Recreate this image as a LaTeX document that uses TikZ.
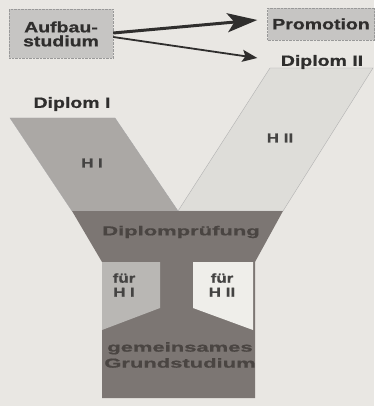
\documentclass[tikz,border=0pt]{standalone}
\usepackage{fontspec}
\setmainfont{Liberation Sans}[FakeStretch=1.3,BoldFeatures={FakeBold=0.8}]
\usetikzlibrary{arrows.meta}
\definecolor{bgcol}{HTML}{E9E7E3}
\definecolor{boxcol}{HTML}{C6C5C3}
\definecolor{armone}{HTML}{ABA8A5}
\definecolor{armtwo}{HTML}{DEDDD9}
\definecolor{stemcol}{HTML}{7C7673}
\definecolor{subone}{HTML}{B9B7B4}
\definecolor{subtwo}{HTML}{EFEEEA}
\definecolor{txtcol}{HTML}{2F2E2D}
\definecolor{darktxt}{HTML}{4A4542}
\tikzset{
  greybox/.style={draw=gray!80,densely dotted,fill=boxcol,text=txtcol,font=\fontsize{15}{15}\bfseries,align=center,inner sep=0pt},
  label/.style={text=txtcol,font=\fontsize{15}{15}\bfseries},
  inlabel/.style={text=txtcol!90,font=\fontsize{13}{14}\bfseries,align=center},
  darklabel/.style={text=darktxt,font=\fontsize{13}{16}\bfseries,align=center,xscale=1.3,transform shape}
}
\begin{document}
\begin{tikzpicture}[x=1pt,y=-1pt]
\fill[bgcol] (0,0) rectangle (374,406);
\useasboundingbox (0,0) rectangle (374,406);

\draw[gray!70,fill=armone] (10,118) -- (115,118) -- (178,211) -- (72,211) -- cycle;
\draw[gray!60,fill=armtwo] (270,68) -- (373,68) -- (283,211) -- (178,211) -- cycle;
\fill[stemcol] (72,211) -- (283,211) -- (255,262) -- (102,262) -- cycle
  (102,262) rectangle (255,398);
\fill[subone] (102,262) -- (160,262) -- (160,308) -- (102,330) -- cycle;
\fill[subtwo] (193,262) -- (253,262) -- (253,330) -- (193,308) -- cycle;

\node[greybox,minimum width=104pt,minimum height=49pt] (aufbau) at (61,34) {Aufbau-\\[-1pt]studium};
\node[greybox,minimum width=107pt,minimum height=32pt] (promotion) at (321,24) {Promotion};
\node[label] (diplomtwo) at (322,62) {Diplom II};
\node[label] (diplomone) at (72,104) {Diplom I};

\node[inlabel] (hone) at (92,163) {H I};
\node[inlabel] (htwo) at (280,138) {H II};
\node[inlabel] (fuerone) at (124,285) {für\\H I};
\node[inlabel] (fuertwo) at (222,285) {für\\H II};
\node[darklabel] (pruefung) at (181,232) {Diplomprüfung};
\node[darklabel] (grund) at (180,355) {gemeinsames\\Grundstudium};

\draw[txtcol,line width=3pt,-{Stealth[length=30pt,width=19pt,inset=7pt]}] ([yshift=1pt]aufbau.east) -- ([xshift=-10pt,yshift=4pt]promotion.west);
\draw[txtcol,line width=1.8pt,-{Stealth[length=15pt,width=12pt,inset=3pt]}] ([yshift=-3pt]aufbau.east) -- ([xshift=-20pt,yshift=4pt]diplomtwo.west);
\end{tikzpicture}
\end{document}
